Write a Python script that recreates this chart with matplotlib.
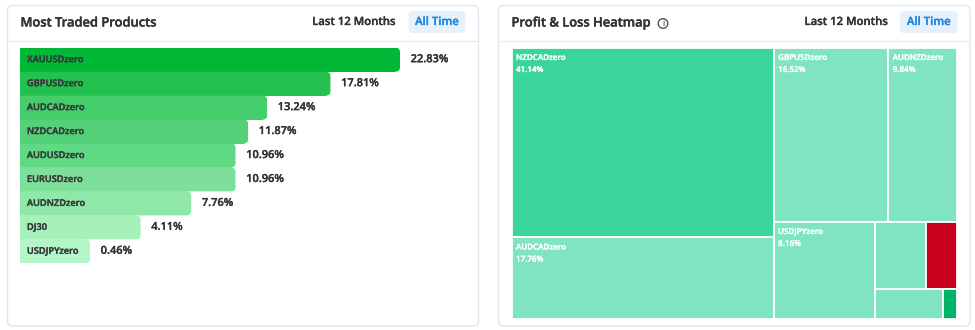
import matplotlib
matplotlib.use("Agg")
import matplotlib.pyplot as plt
from matplotlib import font_manager as fm
from matplotlib import patheffects as pe
from matplotlib.patches import FancyBboxPatch, Rectangle, Circle

# ---------------- data ----------------
products = ["XAUUSDzero", "GBPUSDzero", "AUDCADzero", "NZDCADzero", "AUDUSDzero",
            "EURUSDzero", "AUDNZDzero", "DJ30", "USDJPYzero"]
traded_pct = [22.83, 17.81, 13.24, 11.87, 10.96, 10.96, 7.76, 4.11, 0.46]
bar_colors = ["#00b836", "#24c150", "#45cc6b", "#54d178", "#60d985",
              "#7ddf99", "#8fe8a8", "#a6f1ba", "#b5f6c8"]

pnl_symbols = ["NZDCADzero", "AUDCADzero", "GBPUSDzero", "AUDNZDzero", "USDJPYzero",
               "EURUSDzero", "XAUUSDzero", "AUDUSDzero", "DJ30"]
pnl_share = [41.14, 17.76, 16.52, 9.84, 8.16, 2.84, 1.72, 1.67, 0.35]
pnl_colors = ["#3ad59b", "#80e4c1", "#80e4c1", "#80e4c1", "#80e4c1",
              "#80e4c1", "#c8001e", "#80e4c1", "#00b36b"]

DARK = "#333333"
BLUE = "#1f87e0"

# semibold Open Sans (static file), fallback to family lookup
_semi = None
for f in fm.fontManager.ttflist:
    if f.fname.split("/")[-1].lower() == "opensans-semibold.ttf":
        _semi = f.fname
        break


def fp(size):
    if _semi:
        return fm.FontProperties(fname=_semi, size=size)
    return fm.FontProperties(family=["Open Sans", "DejaVu Sans"], weight="semibold", size=size)


def heavy(color, lw=0.22):
    return [pe.withStroke(linewidth=lw, foreground=color)]


# ---------------- figure ----------------
W_PX, H_PX = 975, 330
fig = plt.figure(figsize=(W_PX / 100, H_PX / 100), dpi=100)
fig.patch.set_facecolor("white")
renderer = fig.canvas.get_renderer()


def fit_size(sample, target_px, start=8.0):
    t = fig.text(0, 0, sample, fontproperties=fp(start))
    w = t.get_window_extent(renderer).width
    t.remove()
    return start * target_px / w


S_TITLE = fit_size("Most Traded Products", 135.5)
S_HDR = fit_size("Last 12 Months", 83.3)
S_NAME = fit_size("XAUUSDzero", 56.5)
S_PCT = fit_size("22.83%", 37.8)
S_TM = fit_size("NZDCADzero", 49.5)

bg = fig.add_axes([0, 0, 1, 1])
bg.set_xlim(0, W_PX)
bg.set_ylim(H_PX, 0)
bg.axis("off")


def fig_axes(x0, y0, x1, y1):
    return fig.add_axes([x0 / W_PX, 1 - y1 / H_PX, (x1 - x0) / W_PX, (y1 - y0) / H_PX])


def card(x0, x1, title, btn_x0, btn_x1, last_cx):
    bg.add_patch(FancyBboxPatch((x0, 5.5), x1 - x0, 320.5,
                                boxstyle="round,pad=0,rounding_size=5",
                                fc="white", ec="#e2e6eb", lw=1.0))
    bg.plot([x0 + 0.5, x1 - 0.5], [40.5, 40.5], color="#e8ecf0", lw=1.0)
    bg.text(x0 + 13, 23, title, fontproperties=fp(S_TITLE),
            color=DARK, va="center", ha="left", path_effects=heavy(DARK, 0.28))
    bg.text(last_cx, 22.5, "Last 12 Months", fontproperties=fp(S_HDR),
            color=DARK, va="center", ha="center", path_effects=heavy(DARK))
    bg.add_patch(FancyBboxPatch((btn_x0, 11), btn_x1 - btn_x0, 22,
                                boxstyle="round,pad=0,rounding_size=4",
                                fc="#e6f1fb", ec="none"))
    bg.text((btn_x0 + btn_x1) / 2, 22.5, "All Time", fontproperties=fp(S_HDR),
            color=BLUE, va="center", ha="center", path_effects=heavy(BLUE))


card(7.5, 478.5, "Most Traded Products", 408.7, 465.3, 354)
card(498.5, 970, "Profit & Loss Heatmap", 900, 957.7, 846.3)
# info icon
bg.add_patch(Circle((663, 23.5), 4.8, fc="none", ec="#444444", lw=0.9))
bg.text(663, 23.8, "i", fontproperties=fp(5.5), color="#444444",
        ha="center", va="center")

# ---------------- bar chart ----------------
PX_PER_PCT = 13.858        # horizontal scale
MIN_LEN = 4.59             # base bar length (room for the label)
BAR_X0, BAR_X1 = 20, 478
BAR_Y0, BAR_Y1 = 47.7, 263.3
axb = fig_axes(BAR_X0, BAR_Y0, BAR_X1, BAR_Y1)
axb.set_xlim(-MIN_LEN, -MIN_LEN + (BAR_X1 - BAR_X0) / PX_PER_PCT)
n = len(products)
axb.set_ylim(n - 0.5, -0.5)
axb.axis("off")
slot_px = (BAR_Y1 - BAR_Y0) / n
r_px = 4.5
r_x = r_px / PX_PER_PCT
ys = list(range(n))
# square body
axb.barh(ys, [v + MIN_LEN - r_x for v in traded_pct], left=-MIN_LEN, height=1.0,
         color=bar_colors, linewidth=0)
# rounded right end
NAME_C = "#383838"
for i, (v, c) in enumerate(zip(traded_pct, bar_colors)):
    axb.add_patch(FancyBboxPatch((-MIN_LEN, i - 0.5), v + MIN_LEN, 1.0,
                                 boxstyle=f"round,pad=0,rounding_size={r_x}",
                                 mutation_aspect=PX_PER_PCT / slot_px,
                                 fc=c, ec="none"))
    axb.annotate(products[i], xy=(-MIN_LEN, i), xytext=(5, 0), textcoords="offset points",
                 fontproperties=fp(S_NAME), color=NAME_C, va="center", ha="left",
                 path_effects=heavy(NAME_C))
    axb.annotate(f"{v:.2f}%", xy=(v, i), xytext=(7.7, 0), textcoords="offset points",
                 fontproperties=fp(S_PCT), color=DARK, va="center", ha="left",
                 path_effects=heavy(DARK))

# ---------------- treemap ----------------
TM_X0, TM_X1 = 511.7, 956.7
TM_Y0, TM_Y1 = 47.7, 319.0
TW, TH = TM_X1 - TM_X0, TM_Y1 - TM_Y0
axt = fig_axes(TM_X0, TM_Y0, TM_X1, TM_Y1)
axt.set_xlim(0, TW)
axt.set_ylim(TH, 0)
axt.axis("off")


def squarify(values, W, H, ratio=(1 + 5 ** 0.5) / 2):
    total = float(sum(values))
    areas = [v / total * W * H for v in values]
    order = sorted(range(len(values)), key=lambda k: -areas[k])
    rect = [0.0, 0.0, W, H]
    out = [None] * len(values)

    def worst(row_area, amax, amin, fixed):
        sq = row_area * row_area
        f = fixed * fixed * ratio
        return max(f * amax / sq, sq / (f * amin)) if sq else float("inf")

    def position(row, row_area, fixed, flush):
        x, y, w, h = rect
        along_x = (fixed == w)
        other = row_area / fixed if fixed else 0
        limit = h if along_x else w
        if flush or other > limit:
            other = limit
        start = x if along_x else y
        length = w if along_x else h
        last = start
        for k, idx in enumerate(row):
            step = areas[idx] / other if other else 0
            remain = start + length - last
            mod = remain if (k == len(row) - 1 or remain < step) else step
            if along_x:
                out[idx] = (last, y, mod, other)
            else:
                out[idx] = (x, last, other, mod)
            last += mod
        if along_x:
            rect[1] += other
            rect[3] -= other
        else:
            rect[0] += other
            rect[2] -= other

    fixed = min(rect[2], rect[3])
    best = float("inf")
    row, row_area = [], 0.0
    i = 0
    while i < len(order):
        idx = order[i]
        row.append(idx)
        row_area += areas[idx]
        ra = [areas[j] for j in row]
        score = worst(row_area, max(ra), min(ra), fixed)
        if score <= best:
            i += 1
            best = score
        else:
            row.pop()
            row_area -= areas[idx]
            position(row, row_area, fixed, False)
            fixed = min(rect[2], rect[3])
            row, row_area = [], 0.0
            best = float("inf")
    if row:
        position(row, row_area, fixed, True)
    return out


rects = squarify(pnl_share, TW, TH)
for (x, y, w, h), name, share, col in zip(rects, pnl_symbols, pnl_share, pnl_colors):
    axt.add_patch(Rectangle((x, y), w, h, fc=col, ec="white", lw=1.3))
    if w >= 60 and h >= 30:
        axt.text(x + 4.3, y + 9.8, name, fontproperties=fp(S_TM),
                 color="white", va="center", ha="left", path_effects=heavy("white", 0.2))
        axt.text(x + 4.3, y + 21.8, f"{share:.2f}%", fontproperties=fp(S_TM),
                 color="white", va="center", ha="left", path_effects=heavy("white", 0.2))

fig.savefig("out.png", dpi=100, facecolor="white")
